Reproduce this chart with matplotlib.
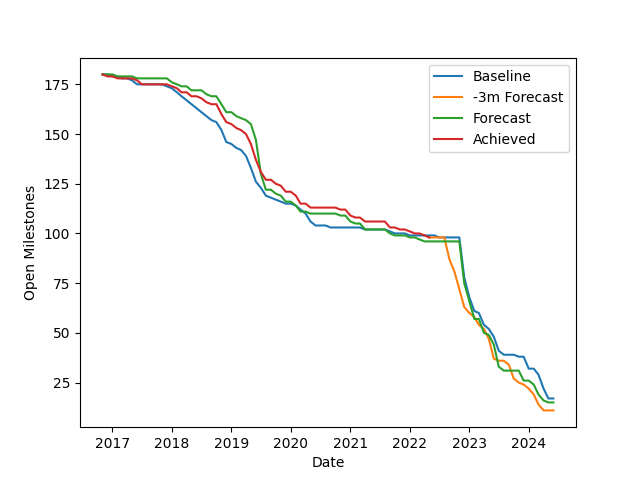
import matplotlib
matplotlib.use("Agg")
import matplotlib.pyplot as plt
import pandas as pd

baseline = [180, 180,
            179, 179, 178, 178, 177, 175, 175, 175, 175, 175, 175, 174,
            173, 171, 169, 167, 165, 163, 161, 159, 157, 156, 152, 146,
            145, 143, 142, 139, 133, 126, 123, 119, 118, 117, 116, 115,
            115, 114, 112, 110, 106, 104, 104, 104, 103, 103, 103, 103,
            103, 103, 103, 102, 102, 102, 102, 102, 101, 100, 100, 100,
            99, 99, 99, 99, 99, 99, 98, 98, 98, 98, 98, 78,
            68, 61, 60, 54, 52, 48, 41, 39, 39, 39, 38, 38,
            32, 32, 29, 22, 17, 17]

forecast = [180, 180,
            180, 179, 179, 179, 179, 178, 178, 178, 178, 178, 178, 178,
            176, 175, 174, 174, 172, 172, 172, 170, 169, 169, 165, 161,
            161, 159, 158, 157, 155, 147, 130, 122, 122, 120, 119, 116,
            116, 114, 111, 111, 110, 110, 110, 110, 110, 110, 109, 109,
            106, 105, 105, 102, 102, 102, 102, 102, 100, 99, 99, 99,
            98, 98, 97, 96, 96, 96, 96, 96, 96, 96, 96, 75,
            66, 57, 57, 50, 49, 44, 33, 31, 31, 31, 31, 26,
            26, 24, 19, 16, 15, 15]

achieved = [180, 179,
            179, 178, 178, 178, 178, 177, 175, 175, 175, 175, 175, 175,
            174, 173, 171, 171, 169, 169, 168, 166, 165, 165, 160, 156,
            155, 153, 152, 150, 145, 137, 131, 127, 127, 125, 124, 121,
            121, 119, 115, 115, 113, 113, 113, 113, 113, 113, 112, 112,
            109, 108, 108, 106, 106, 106, 106, 106, 103, 103, 102, 102,
            101, 100, 100, 99, 98]

forecast_3m = [98, 98, 98, 98, 87, 81, 72, 63,
               60, 58, 54, 52, 47, 37, 36, 36, 34, 27, 25, 24,
               22, 19, 14, 11, 11, 11]

dates = pd.date_range("2016-11-01", periods=len(baseline), freq="MS")
dates_ach = dates[:len(achieved)]
dates_3m = dates[len(achieved) - 1:len(achieved) - 1 + len(forecast_3m)]

fig, ax = plt.subplots(figsize=(6.4, 4.8), dpi=100)
ax.plot(dates, baseline, label="Baseline")
ax.plot(dates_3m, forecast_3m, label="-3m Forecast")
ax.plot(dates, forecast, label="Forecast")
ax.plot(dates_ach, achieved, label="Achieved")
ax.set_xlabel("Date")
ax.set_ylabel("Open Milestones")
ax.legend(loc="upper right")
fig.savefig("out.png")
